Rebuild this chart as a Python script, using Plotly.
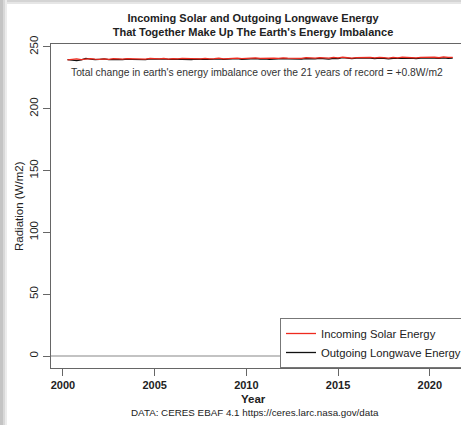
import numpy as np
import plotly.graph_objects as go

# Quarterly readings (W/m2)
incoming_solar = [239.6, 239.9, 240.3, 239.8, 240.1, 240.6, 240.2, 239.9, 240.4, 240.0, 240.5, 240.3,
                  240.1, 240.6, 240.4, 240.2, 240.5, 240.1, 240.7, 240.3, 240.4, 240.8, 240.2, 240.6,
                  240.3, 240.7, 240.5, 240.2, 240.6, 240.4, 240.8, 240.3, 240.5, 240.9, 240.4, 240.7,
                  240.6, 241.0, 240.5, 240.8, 240.6, 241.1, 240.7, 240.9, 240.5, 241.0, 240.8, 241.2,
                  240.9, 240.7, 241.1, 240.8, 241.3, 240.9, 241.0, 241.4, 241.1, 240.9, 241.5, 241.2,
                  241.7, 241.3, 241.0, 241.4, 241.6, 241.2, 241.5, 241.1, 241.6, 241.3, 241.0, 241.5,
                  241.2, 241.7, 241.3, 241.5, 241.1, 241.6, 241.8, 241.4, 241.7, 241.3, 241.9, 241.5, 241.6]
outgoing_longwave = [239.8, 239.2, 238.9, 239.6, 240.8, 240.1, 239.7, 240.0, 240.3, 239.8, 240.2, 240.0,
                     239.7, 240.2, 240.0, 239.9, 240.1, 239.8, 240.3, 240.0, 240.1, 240.4, 239.9, 240.2,
                     240.0, 240.3, 240.1, 239.8, 240.2, 240.0, 240.3, 239.9, 240.1, 240.4, 240.0, 240.2,
                     240.1, 240.5, 240.0, 240.3, 240.2, 240.5, 240.1, 240.4, 240.0, 240.3, 240.2, 240.6,
                     240.3, 240.1, 240.5, 240.2, 240.6, 240.3, 240.4, 240.7, 240.4, 240.2, 240.8, 240.5,
                     241.3, 240.9, 240.6, 240.9, 241.0, 240.6, 240.9, 240.5, 241.0, 240.7, 240.4, 240.8,
                     240.6, 241.0, 240.7, 240.9, 240.5, 241.0, 241.1, 240.8, 241.0, 240.7, 241.2, 240.8, 240.9]
start_year = 2000.25
step = 0.25
x_ticks = [2000, 2005, 2010, 2015, 2020]
y_ticks = [0, 50, 100, 150, 200, 250]

x_in = start_year + step * np.arange(len(incoming_solar))
x_out = start_year + step * np.arange(len(outgoing_longwave))

FONT = "Liberation Sans, Arial, sans-serif"
L, T, PW, PH = 51, 44, 410, 324


def px(xp):
    return (xp - L) / PW


def py(yp):
    return (T + PH - yp) / PH


fig = go.Figure()
fig.add_trace(go.Scatter(x=x_out, y=outgoing_longwave, mode="lines", name="Outgoing Longwave Energy",
                         line=dict(color="#111111", width=1.3), legendrank=2))
fig.add_trace(go.Scatter(x=x_in, y=incoming_solar, mode="lines", name="Incoming Solar Energy",
                         line=dict(color="#ee2a1e", width=1.3), legendrank=1))

fig.add_shape(type="line", xref="paper", x0=0, x1=1, yref="y", y0=0, y1=0,
              line=dict(color="#888888", width=1.2), layer="below")

# screenshot frame shading at left and top edges
for (a, b, c) in [(0, 3, "#c4c4c4"), (3, 5, "#d8d8d8"), (5, 7, "#ececec")]:
    fig.add_shape(type="rect", xref="paper", yref="paper", x0=px(a), x1=px(b), y0=py(425), y1=py(0),
                  line=dict(width=0), fillcolor=c, layer="below")
for (a, b, c) in [(0, 2, "#d4d4d4"), (2, 4, "#e6e6e6")]:
    fig.add_shape(type="rect", xref="paper", yref="paper", x0=px(7), x1=px(461), y0=py(b), y1=py(a),
                  line=dict(width=0), fillcolor=c, layer="below")

fig.update_layout(
    width=461, height=425,
    margin=dict(l=L, r=461 - L - PW, t=T, b=425 - T - PH, autoexpand=False),
    paper_bgcolor="white", plot_bgcolor="white",
    font=dict(family=FONT, color="#222222", size=11),
    title=dict(text="<b>Incoming Solar and Outgoing Longwave Energy<br>That Together Make Up The Earth's Energy Imbalance</b>",
               x=253 / 461, xanchor="center", y=1 - 22 / 425, yanchor="middle",
               font=dict(size=11, family=FONT, color="#222222")),
    xaxis=dict(range=[1999.35, 2021.7], tickvals=x_ticks, ticks="outside", ticklen=7,
               tickcolor="#666666", tickfont=dict(size=11, family=FONT, color="#222222", weight="bold"),
               showgrid=False, zeroline=False, showline=True, linecolor="#666666", linewidth=1, mirror=True),
    yaxis=dict(range=[-9.7, 252.4], tickvals=y_ticks, ticks="outside", ticklen=7, tickangle=-90,
               tickcolor="#666666", tickfont=dict(size=11.5, family=FONT, color="#222222"),
               showgrid=False, zeroline=False, showline=True, linecolor="#666666", linewidth=1, mirror=True),
    legend=dict(x=px(280), y=0, xanchor="left", yanchor="bottom",
                bgcolor="white", bordercolor="#777777", borderwidth=1,
                font=dict(size=11.3, family=FONT, color="#222222"), tracegroupgap=0),
    annotations=[
        dict(text="Total change in earth's energy imbalance over the 21 years of record = +0.8W/m2",
             xref="paper", yref="paper", x=px(257), y=py(72), xanchor="center", yanchor="middle",
             showarrow=False, font=dict(size=10.3, family=FONT, color="#333333")),
        dict(text="<b>Year</b>", xref="paper", yref="paper", x=px(253), y=py(399),
             xanchor="center", yanchor="middle",
             showarrow=False, font=dict(size=11.5, family=FONT, color="#222222")),
        dict(text="DATA: CERES EBAF 4.1 https://ceres.larc.nasa.gov/data", xref="paper", yref="paper",
             x=px(255), y=py(412), xanchor="center", yanchor="middle", showarrow=False,
             font=dict(size=9.8, family=FONT, color="#222222")),
        dict(text="Radiation (W/m2)", xref="paper", yref="paper", x=px(19), y=py(206),
             xanchor="center", yanchor="middle",
             textangle=-90, showarrow=False, font=dict(size=11.5, family=FONT, color="#222222")),
    ],
)

fig.write_html("out.html", config={"displayModeBar": False},
               post_script="document.body.style.margin='0';")
